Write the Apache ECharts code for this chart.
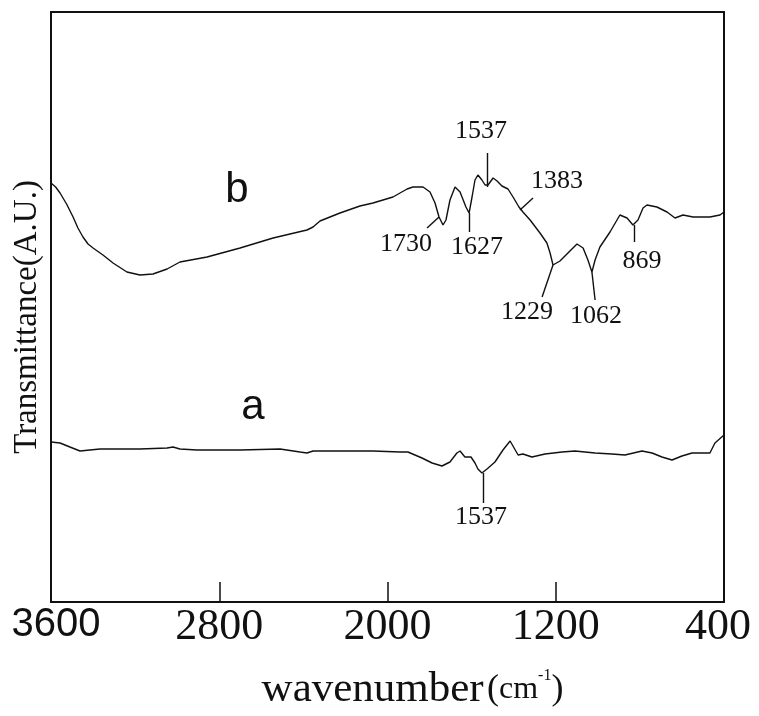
<!DOCTYPE html>
<html><head><meta charset="utf-8">
<script src="https://cdn.jsdelivr.net/npm/echarts@6/dist/echarts.min.js"></script>
<style>html,body{margin:0;padding:0;background:#fff}#c{width:759px;height:716px}</style>
</head><body><div id="c"></div>
<script>
// Curve b (upper spectrum): wavenumber (cm-1) and transmittance (arbitrary units)
const wnB = [3600,3578,3557,3526,3495,3472,3448,3424,3400,3353,3305,3239,3177,3115,3048,2987,2858,2701,2544,2383,2354,2321,2226,2131,2069,1974,1907,1879,1831,1798,1774,1755,1736,1722,1703,1679,1655,1627,1612,1598,1584,1570,1551,1536,1522,1498,1479,1456,1427,1403,1375,1356,1322,1275,1242,1227,1213,1180,1142,1099,1070,1047,1028,1013,990,942,895,861,833,809,785,766,719,671,633,595,547,467,419,400];
const tB  = [419,415,409,398,385,374,365,358,354,347,339,330,327,328,333,340,345,354,364,372,375,381,389,396,399,405,413,415,415,410,399,385,377,382,402,415,410,395,389,405,422,427,422,417,417,424,421,416,413,405,395,390,382,369,359,349,337,341,349,358,354,342,330,342,355,370,387,384,377,382,394,397,395,390,384,387,385,385,387,390];
// Curve a (lower spectrum)
const wnA = [3600,3557,3510,3462,3415,3367,3177,3048,3020,2987,2906,2701,2511,2416,2383,2354,2226,2069,1941,1903,1836,1788,1741,1703,1670,1655,1632,1603,1584,1570,1551,1527,1489,1451,1417,1398,1379,1356,1313,1251,1170,1109,1013,933,871,790,742,695,647,600,552,505,467,443,400];
const tA  = [160,159,155,151,152,153,153,154,155,153,152,152,153,150,149,151,151,151,150,150,144,139,136,140,149,151,145,145,139,133,129,133,140,152,161,154,147,148,145,148,150,151,149,148,147,151,149,145,142,146,149,149,149,159,167];
// x-axis tick labels
const tickValues = [3600,2800,2000,1200,400];
// Peak annotations
const peakText    = ['1537','1383','1730','1627','1229','1062','869','1537'];
const peakLabelWn = [1555,1194,1912,1574,1337,1009,790,1555];
const peakLabelT  = [471,421,358,355,290,286,341,85];
const leaderWn1 = [1527,1370,1755,1612,1213,1028,828,1546];
const leaderT1  = [415,392,385,389,337,330,377,129];
const leaderWn2 = [1527,1308,1812,1612,1265,1013,828,1546];
const leaderT2  = [449,404,374,370,305,302,360,99];
// Curve names
const curveNames  = ['b','a'];
const curveNameWn = [2716,2640];
const curveNameT  = [412,195];

const ink = '#111';
const serif = '"Liberation Serif","Times New Roman",serif';
const sans = '"Liberation Sans",Arial,sans-serif';

const chart = echarts.init(document.getElementById('c'), null, {renderer:'canvas'});
chart.setOption({
  animation:false,
  backgroundColor:'#fff',
  grid:{left:51,right:35,top:12,bottom:114,show:true,borderColor:ink,borderWidth:2,backgroundColor:'transparent'},
  xAxis:{
    type:'value', min:400, max:3600, inverse:true,
    axisLine:{show:false},
    splitLine:{show:false},
    axisTick:{show:true, inside:true, length:20, customValues:tickValues, lineStyle:{color:ink,width:1.5}},
    axisLabel:{
      show:true, customValues:tickValues, margin:3, color:ink,
      formatter:v => v===3600 ? '{s|3600}' : (v===400 ? '{e|400}' : '{n|'+v+'}'),
      rich:{
        s:{fontFamily:sans,fontSize:40,color:ink,padding:[0,0,0,10]},
        n:{fontFamily:serif,fontSize:44,color:ink},
        e:{fontFamily:serif,fontSize:44,color:ink,padding:[0,12,0,0]}
      }
    },
    name:'{w|wavenumber} {p|(}{c|cm}{s|-1}{p|)}',
    nameLocation:'middle', nameGap:66,
    nameTextStyle:{
      padding:[0,0,0,50],
      rich:{
        w:{fontFamily:serif,fontSize:43,color:ink},
        p:{fontFamily:serif,fontSize:36,color:ink},
        c:{fontFamily:serif,fontSize:32,color:ink},
        s:{fontFamily:serif,fontSize:16,color:ink,verticalAlign:'top'}
      }
    }
  },
  yAxis:{
    type:'value', min:0, max:590,
    axisLine:{show:false}, axisTick:{show:false}, axisLabel:{show:false}, splitLine:{show:false},
    name:'Transmittance(A.U.)', nameLocation:'middle', nameGap:7,
    nameTextStyle:{fontFamily:serif,fontSize:33,color:ink,padding:[0,20,0,0]}
  },
  series:[
    {type:'line', data:wnB.map((w,i)=>[w,tB[i]]), showSymbol:false, lineStyle:{color:ink,width:1.4}, silent:true},
    {type:'line', data:wnA.map((w,i)=>[w,tA[i]]), showSymbol:false, lineStyle:{color:ink,width:1.4}, silent:true},
    {type:'lines', coordinateSystem:'cartesian2d', silent:true,
     lineStyle:{color:ink,width:1.4,opacity:1},
     data:leaderWn1.map((w,i)=>({coords:[[w,leaderT1[i]],[leaderWn2[i],leaderT2[i]]]}))},
    {type:'scatter', symbolSize:0, itemStyle:{color:ink}, silent:true,
     data:peakText.map((t,i)=>({name:t,value:[peakLabelWn[i],peakLabelT[i]]})),
     label:{show:true,position:'inside',formatter:'{b}',fontFamily:serif,fontSize:26,color:ink,opacity:1}},
    {type:'scatter', symbolSize:0, itemStyle:{color:ink}, silent:true,
     data:curveNames.map((t,i)=>({name:t,value:[curveNameWn[i],curveNameT[i]]})),
     label:{show:true,position:'inside',formatter:'{b}',fontFamily:sans,fontSize:42,color:ink,opacity:1}}
  ]
});
</script></body></html>
